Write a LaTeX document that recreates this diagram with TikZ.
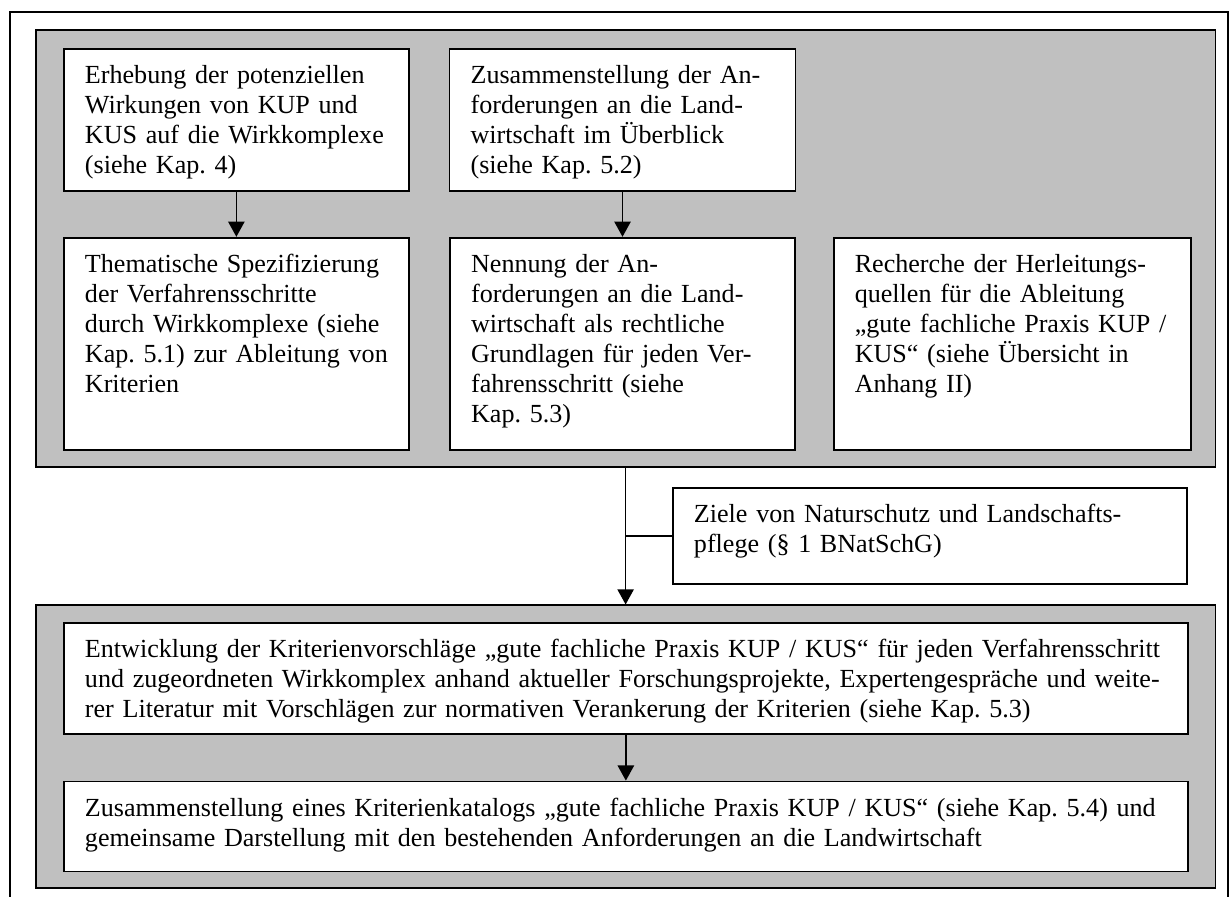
\documentclass[tikz,border=0pt]{standalone}
\usepackage{fontspec}
\setmainfont{Liberation Serif}
\usetikzlibrary{arrows.meta,positioning}
\definecolor{panelgrey}{RGB}{192,192,192}
\newcommand{\pxl}{0.46pt}

\begin{document}
\begin{tikzpicture}[x=0.46pt,y=-0.46pt,line width=0.8pt,>={Triangle[length=7pt,width=7.5pt]},
  panel/.style={draw,fill=panelgrey,anchor=north west,inner sep=0pt},
  box/.style={draw,fill=white,anchor=north west,align=left,inner xsep=0pt,inner ysep=7pt,text height=9pt,
    font=\fontsize{12pt}{13.8pt}\selectfont,execute at begin node={\leftskip=9.7pt}},
  boxsize/.style 2 args={text width=#1*\pxl,text depth=#2*\pxl-23pt}]
\useasboundingbox (0,0) rectangle (1229,897);
% outer frame
\draw (10,897) |- (1228,12) -- (1228,897);

% grey panels
\node[panel,minimum width=1179.5*\pxl,minimum height=437.5*\pxl] (oben) at (35,29) {};
\node[panel,minimum width=1179.5*\pxl,minimum height=282.5*\pxl] (unten) at (35,604.5) {};

% upper panel
\node[box,boxsize={345}{142.5}] (erh) at (63,48)
  {Erhebung der potenziellen\\Wirkungen von KUP und\\KUS auf die Wirkkomplexe\\(siehe Kap.~4)};
\node[box,boxsize={346}{142.5}] (zus) [right=17.9pt of erh]
  {Zusammenstellung der An-\\forderungen an die Land-\\wirtschaft im Überblick\\(siehe Kap.~5.2)};
\node[box,boxsize={345}{212}] (them) [below=20.5pt of erh]
  {Thematische Spezifizierung\\der Verfahrensschritte\\durch Wirkkomplexe (siehe\\Kap.~5.1) zur Ableitung von\\Kriterien};
\node[box,boxsize={345}{212}] (nenn) [below=20.5pt of zus]
  {Nennung der An-\\forderungen an die Land-\\wirtschaft als rechtliche\\Grundlagen für jeden Ver-\\fahrensschritt (siehe\\Kap.~5.3)};
\node[box,boxsize={357}{212}] (rech) [right=17pt of nenn]
  {Recherche der Herleitungs-\\quellen für die Ableitung\\„gute fachliche Praxis KUP /\\KUS“ (siehe Übersicht in\\Anhang II)};

% side input
\node[box,boxsize={514}{96}] (ziele) at (672,487)
  {Ziele von Naturschutz und Landschafts-\\pflege (§ 1 BNatSchG)};

% lower panel
\node[box,boxsize={1124}{111.5}] (entw) at (63,622)
  {Entwicklung der Kriterienvorschläge „gute fachliche Praxis KUP / KUS“ für jeden Verfahrensschritt\\und zugeordneten Wirkkomplex anhand aktueller Forschungsprojekte, Expertengespräche und weite-\\rer Literatur mit Vorschlägen zur normativen Verankerung der Kriterien (siehe Kap.~5.3)};
\node[box,boxsize={1124}{90}] (kat) [below=20.9pt of entw]
  {Zusammenstellung eines Kriterienkatalogs „gute fachliche Praxis KUP / KUS“ (siehe Kap.~5.4) und\\gemeinsame Darstellung mit den bestehenden Anforderungen an die Landwirtschaft};

\path[->] (erh) edge (them)
          (zus) edge (nenn)
          (entw) edge (kat)
          (oben) edge (unten);
\draw (ziele.west) -- (ziele.west -| oben.south);
\end{tikzpicture}
\end{document}
